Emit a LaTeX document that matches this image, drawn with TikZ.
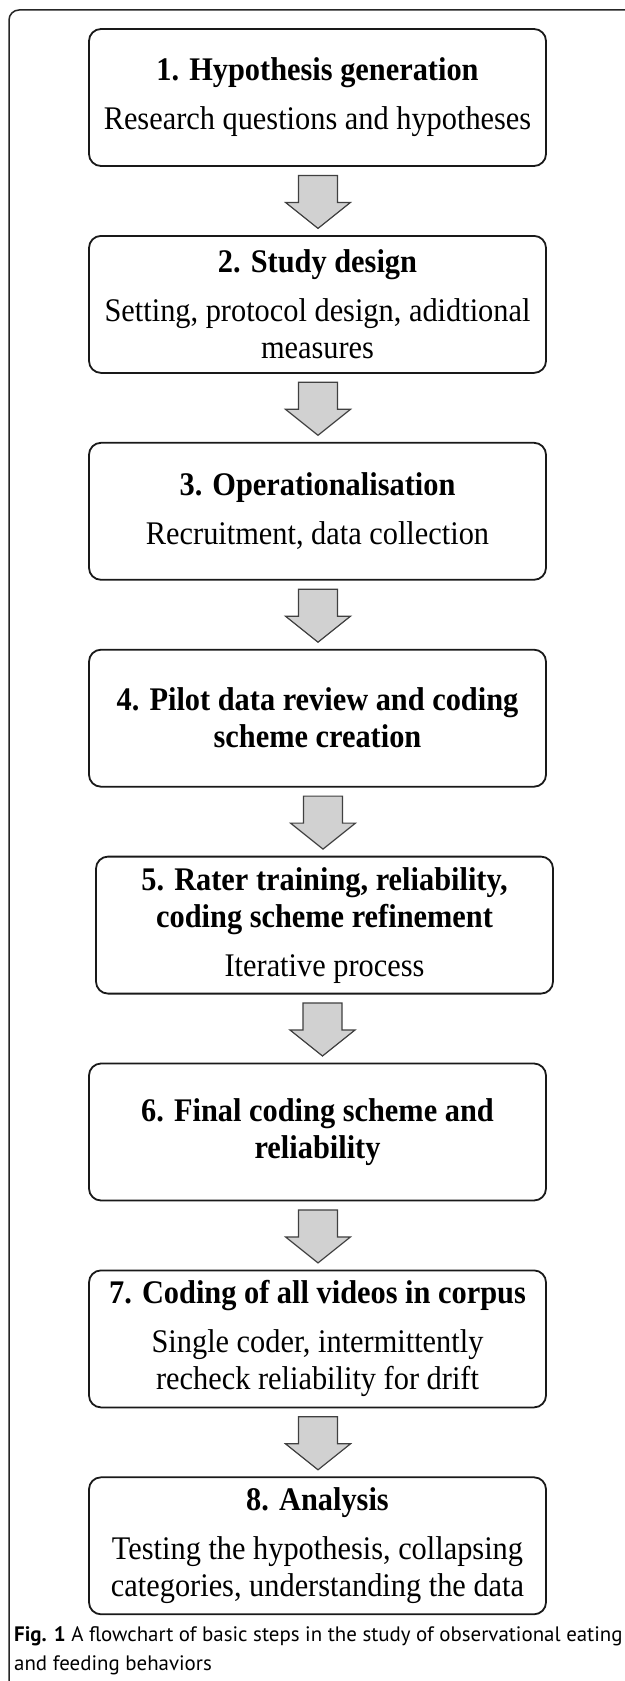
\documentclass[tikz,border=0pt]{standalone}
\usepackage{fontspec}
\setmainfont{Liberation Serif}[FakeStretch=0.92]
\newfontfamily\capfont{PT Sans}
\usetikzlibrary{calc}
\newcommand\boxfont{\fontsize{33bp}{37bp}\selectfont}
\tikzset{
  stepbox/.style={draw=black!90, line width=1.8bp, rounded corners=12bp,
    minimum width=457bp, minimum height=137bp, inner sep=0pt,
    align=center, font=\boxfont},
  arrowshape/.style={draw=black!75, fill=black!18, line width=1.2bp, line join=miter},
  blockarrow/.pic={\path[arrowshape] (-19.5,0) -- (19.5,0) -- (19.5,27) -- (32.5,27)
     -- (0,53) -- (-32.5,27) -- (-19.5,27) -- cycle;},
  frameline/.style={draw=black!85, line width=1.5bp, rounded corners=10bp},
  captext/.style={anchor=north west, align=left, inner sep=0pt,
    font=\capfont\fontsize{20.9bp}{29bp}\selectfont}
}
\begin{document}
\begin{tikzpicture}[x=1bp,y=-1bp]
\useasboundingbox (0,0) rectangle (625,1681);
\clip (0,0) rectangle (625,1681);
\fill[white] (0,0) rectangle (625,1681);
\draw[frameline] (9,1720) -- (9,10) -- (680,10);

\node[stepbox] (b1) at (317.5,97.5) {\textbf{1. Hypothesis generation}\\[12bp]Research questions and hypotheses};
\node[stepbox] (b2) at (317.5,304.4) {\textbf{2. Study design}\\[12bp]Setting, protocol design, adidtional\\measures};
\node[stepbox] (b3) at (317.5,511.3) {\textbf{3. Operationalisation}\\[12bp]Recruitment, data collection};
\node[stepbox] (b4) at (317.5,718.2) {\textbf{4. Pilot data review and coding}\\\textbf{scheme creation}};
\node[stepbox] (b5) at (324.5,925.1) {\textbf{5. Rater training, reliability,}\\\textbf{coding scheme refinement}\\[12bp]Iterative process};
\node[stepbox] (b6) at (317.5,1132) {\textbf{6. Final coding scheme and}\\\textbf{reliability}};
\node[stepbox] (b7) at (317.5,1338.9) {\textbf{7. Coding of all videos in corpus}\\[12bp]Single coder, intermittently\\recheck reliability for drift};
\node[stepbox] (b8) at (317.5,1545.8) {\textbf{8. Analysis}\\[12bp]Testing the hypothesis, collapsing\\categories, understanding the data};

\pic at ($(b1.south)+(0.5,8.5)$) {blockarrow};
\pic at ($(b2.south)+(0.5,8.5)$) {blockarrow};
\pic at ($(b3.south)+(0.5,8.5)$) {blockarrow};
\pic at ($(b4.south)+(5.5,8.5)$) {blockarrow};
\pic at ($(b5.south)+(-2,8.5)$) {blockarrow};
\pic at ($(b6.south)+(0.5,8.5)$) {blockarrow};
\pic at ($(b7.south)+(0.5,8.5)$) {blockarrow};

\node[captext] (cap) at (14,1626) {\textbf{Fig. 1} A flowchart of basic steps in the study of observational eating\\and feeding behaviors};
\end{tikzpicture}
\end{document}
